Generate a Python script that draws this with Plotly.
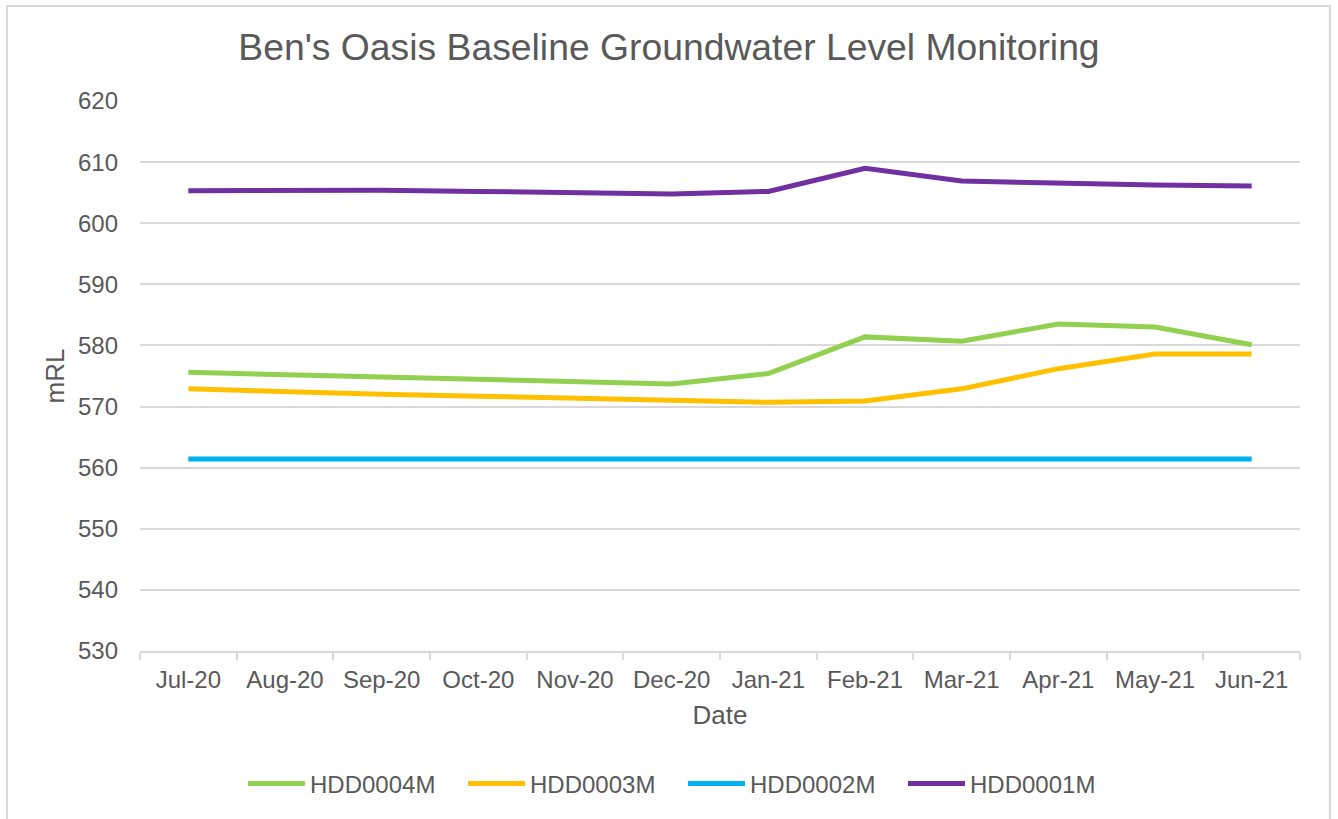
import plotly.graph_objects as go

months = ["Jul-20", "Aug-20", "Sep-20", "Oct-20", "Nov-20", "Dec-20",
          "Jan-21", "Feb-21", "Mar-21", "Apr-21", "May-21", "Jun-21"]

hdd0004m = [575.6, 575.2, 574.7, 574.3, 573.9, 573.7, 575.4, 581.4, 580.7, 583.5, 583.0, 580.1]
hdd0003m = [572.9, 572.4, 572.0, 571.7, 571.4, 571.0, 570.7, 570.9, 572.9, 576.2, 578.6, 578.6]
hdd0002m = [561.4, 561.4, 561.4, 561.4, 561.35, 561.3, 561.3, 561.3, 561.4, 561.4, 561.4, 561.4]
hdd0001m = [605.3, 605.4, 605.4, 605.2, 604.9, 604.8, 605.2, 609.0, 606.9, 606.5, 606.25, 606.1]

series_names = ["HDD0004M", "HDD0003M", "HDD0002M", "HDD0001M"]
series_values = [hdd0004m, hdd0003m, hdd0002m, hdd0001m]
series_colors = ["#92D050", "#FFC000", "#00B0F0", "#7030A0"]

FONT = "Liberation Sans, Arial, sans-serif"
TXT = "#595959"
GRID = "#D9D9D9"

fig = go.Figure()
for name, vals, col in zip(series_names, series_values, series_colors):
    fig.add_trace(go.Scatter(x=months, y=vals, name=name, mode="lines",
                             line=dict(color=col, width=5)))

W, H = 1338, 819
L, R, T, B = 140, 38, 101, 168
pw, ph = W - L - R, H - T - B

fig.update_layout(
    width=W, height=H,
    margin=dict(l=L, r=R, t=T, b=B),
    paper_bgcolor="white", plot_bgcolor="white",
    font=dict(family=FONT, color=TXT, size=24),
    title=dict(text="Ben's Oasis Baseline Groundwater Level Monitoring",
               x=669 / W, xanchor="center", y=1 - 47 / H, yanchor="middle",
               font=dict(size=37.3, color=TXT, family=FONT)),
    xaxis=dict(type="category", range=[-0.5, 11.5],
               showgrid=False, showline=True, linecolor=GRID, linewidth=2,
               ticks="outside", tickson="boundaries", ticklen=7, tickcolor=GRID, tickwidth=2,
               tickfont=dict(size=24, color=TXT), ticklabelstandoff=6,
               title=dict(text="Date", font=dict(size=26, color=TXT), standoff=14)),
    yaxis=dict(range=[530, 620], dtick=10, showgrid=True, gridcolor=GRID, gridwidth=2,
               zeroline=False, showline=False, ticks="",
               tickfont=dict(size=24, color=TXT), ticklabelstandoff=21,
               title=dict(text="mRL", font=dict(size=26, color=TXT), standoff=5)),
    legend=dict(orientation="h", x=(683 - L) / pw, xanchor="center",
                y=-(784 - (H - B)) / ph, yanchor="middle",
                font=dict(size=24, color=TXT), itemwidth=57,
                entrywidth=148, entrywidthmode="pixels"),
    shapes=[dict(type="rect", xref="paper", yref="paper",
                 x0=(7 - L) / pw, x1=(1330 - L) / pw,
                 y0=-(830 - (H - B)) / ph, y1=((H - B) - 6) / ph,
                 line=dict(color=GRID, width=2), fillcolor="rgba(0,0,0,0)", layer="below")],
)

fig.write_html("out.html", config={"displayModeBar": False},
               post_script="document.body.style.margin='0';")
